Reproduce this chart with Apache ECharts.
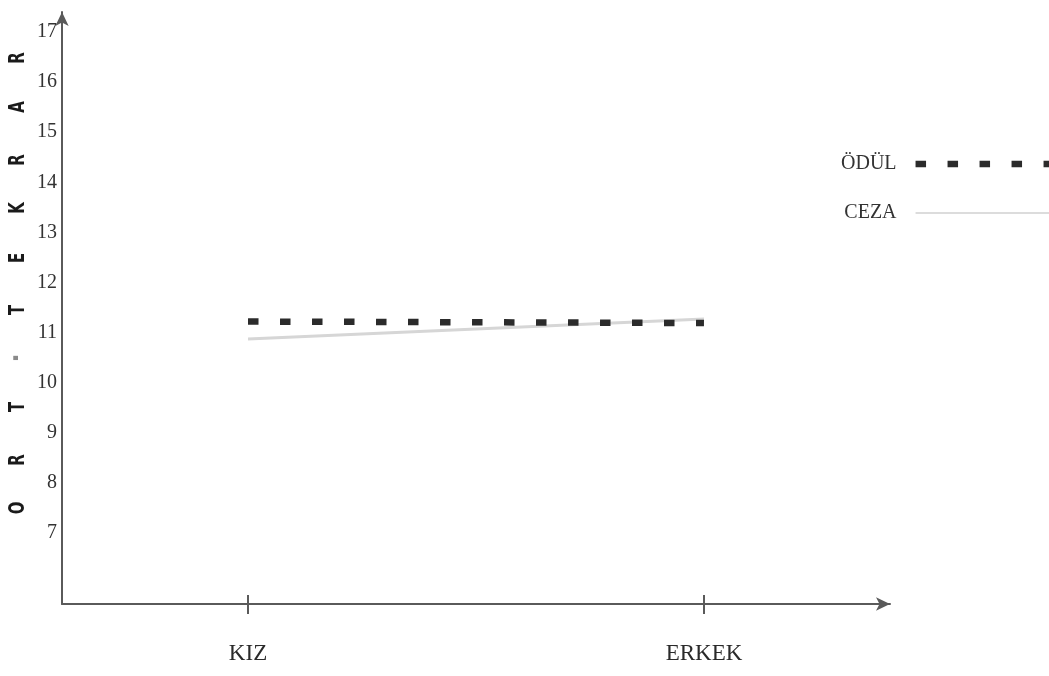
<!DOCTYPE html>
<html>
<head>
<meta charset="utf-8">
<script src="https://cdn.jsdelivr.net/npm/echarts@6/dist/echarts.min.js"></script>
<style>
html,body{margin:0;padding:0;background:#fff;}
#chart{width:1049px;height:676px;}
</style>
</head>
<body>
<div id="chart"></div>
<script>
// Data
var categories = ['KIZ', 'ERKEK'];
var categoryPositions = [0, 1];
var odulValues = [11.22, 11.19];
var cezaValues = [10.87, 11.27];
var yTickLabels = [7, 8, 9, 10, 11, 12, 13, 14, 15, 16, 17];
var yAxisTitleLetters = ['O', 'R', 'T', '·', 'T', 'E', 'K', 'R', 'A', 'R'];
var seriesNames = ['ÖDÜL', 'CEZA'];

var chart = echarts.init(document.getElementById('chart'));

function pairs(vals) {
  return vals.map(function (v, i) { return [categoryPositions[i], v]; });
}

var serif = '"Liberation Serif", "DejaVu Serif", serif';
var axisColor = '#5a5a5a';
var odulStyle = { color: '#2b2b2b', width: 6.5, type: [10.5, 21.5], cap: 'butt' };
var cezaStyle = { color: '#d6d6d6', width: 3 };

var option = {
  backgroundColor: '#fff',
  animation: false,
  grid: { left: 62, right: 159, top: 12, bottom: 72 },
  xAxis: [{
    type: 'value',
    min: -0.408,
    max: 1.408,
    splitLine: { show: false },
    axisLine: { onZero: false, lineStyle: { color: axisColor, width: 2 }, symbol: ['none', 'arrow'], symbolSize: [10, 14] },
    axisTick: { show: true, customValues: categoryPositions, length: 10, lineStyle: { color: axisColor, width: 2 } },
    axisLabel: {
      customValues: categoryPositions,
      margin: 38,
      fontFamily: serif,
      fontSize: 23,
      color: '#2a2a2a',
      formatter: function (v) {
        var i = categoryPositions.indexOf(Math.round(v));
        return i >= 0 ? categories[i] : '';
      }
    }
  }, {
    type: 'value',
    position: 'bottom',
    min: -0.408,
    max: 1.408,
    splitLine: { show: false },
    axisLine: { show: false, onZero: false },
    axisTick: { show: true, inside: true, customValues: categoryPositions, length: 9, lineStyle: { color: axisColor, width: 2 } },
    axisLabel: { show: false }
  }],
  yAxis: {
    type: 'value',
    min: 5.58,
    max: 17.4,
    splitLine: { show: false },
    axisLine: { onZero: false, lineStyle: { color: axisColor, width: 2 }, symbol: ['none', 'arrow'], symbolSize: [10, 14] },
    axisTick: { show: false },
    axisLabel: {
      customValues: yTickLabels,
      margin: 5,
      fontFamily: serif,
      fontSize: 20,
      color: '#333'
    }
  },
  legend: {
    orient: 'vertical',
    left: 836,
    top: 149,
    align: 'right',
    itemWidth: 134,
    itemHeight: 10,
    itemGap: 29,
    textStyle: { fontFamily: serif, fontSize: 20, color: '#333', padding: [0, 14, 0, 0] },
    data: [
      { name: seriesNames[0], itemStyle: { opacity: 0 }, lineStyle: odulStyle },
      { name: seriesNames[1], itemStyle: { opacity: 0 }, lineStyle: { color: '#dcdcdc', width: 2 } }
    ]
  },
  series: [{
    name: seriesNames[0],
    type: 'line',
    xAxisIndex: 0,
    data: pairs(odulValues),
    symbol: 'none',
    lineStyle: odulStyle,
    itemStyle: { color: '#2b2b2b' },
    z: 3
  }, {
    name: seriesNames[1],
    type: 'line',
    xAxisIndex: 0,
    data: pairs(cezaValues),
    symbol: 'none',
    lineStyle: cezaStyle,
    itemStyle: { color: '#d6d6d6' },
    z: 2
  }],
  graphic: yAxisTitleLetters.map(function (ch, i) {
    var ys = [508, 460, 407, 358, 310, 258, 208, 160, 107, 58];
    var isDot = ch === '·';
    return {
      type: 'text',
      x: 18,
      y: ys[i],
      rotation: Math.PI / 2,
      scaleX: isDot ? 1 : 0.68,
      style: {
        text: ch,
        font: (isDot ? '900 24px ' : '900 22px ') + '"DejaVu Sans", sans-serif',
        fill: isDot ? '#8a8a8a' : '#1a1a1a',
        align: 'center',
        verticalAlign: 'middle'
      }
    };
  })
};

chart.setOption(option);
</script>
</body>
</html>
